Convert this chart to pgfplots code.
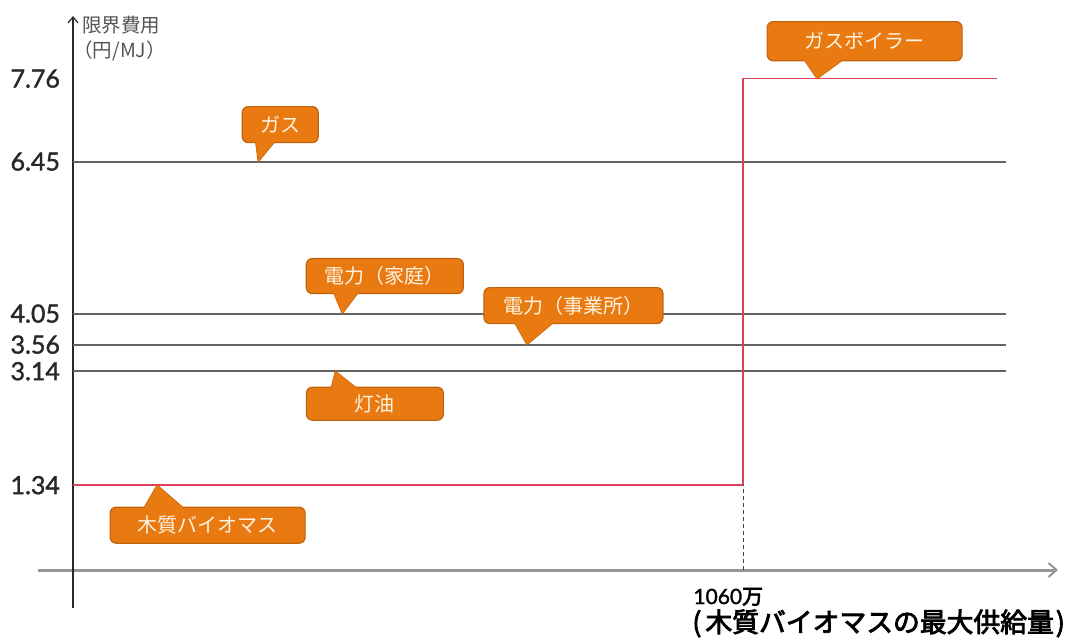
\documentclass[border=0pt]{standalone}
\usepackage{fontspec}
\usepackage{pgfplots}
\pgfplotsset{compat=1.18}
\usetikzlibrary{arrows.meta}
\setmainfont{Lato}
\newfontfamily\jp{Noto Sans CJK JP}
\newfontfamily\jpheavy[FakeBold=3]{Noto Sans CJK JP}
\newfontfamily\tickfont[FakeBold=1.5]{Lato}

\definecolor{calloutfill}{RGB}{233,122,18}
\definecolor{calloutedge}{RGB}{192,98,14}
\definecolor{callouttext}{RGB}{255,242,225}
\definecolor{levelgray}{RGB}{100,100,100}
\definecolor{stepred}{RGB}{220,64,92}
\definecolor{xaxisgray}{RGB}{150,150,150}
\definecolor{ticktext}{RGB}{40,40,40}
\definecolor{titlegray}{RGB}{85,85,85}

% Speech-bubble label.
% #1 tip coordinate; #2 left, #3 right, #4 top, #5 bottom of the box;
% #6, #7 ends of the pointer base; #8 text.  Offsets in px, y pointing down.
\newcommand{\callout}[8]{%
  \begin{scope}[shift={(#1)}, x=0.5pt, y=-0.5pt]
    \pgfmathsetmacro\cby{(#5<0) ? (#5-4) : (#4+4)}
    \filldraw[fill=calloutfill, draw=calloutedge, line width=0.6pt, line join=round]
      (#6,\cby) -- (0,0) -- (#7,\cby) -- cycle;
    \filldraw[fill=calloutfill, draw=calloutedge, line width=0.6pt, rounded corners=3pt]
      (#2,#4) rectangle (#3,#5);
    \fill[calloutfill] (#6,\cby) -- (0,0) -- (#7,\cby) -- cycle;
    \node[text=callouttext, inner sep=0pt, font={\fontsize{10}{12}\selectfont\jp}]
      at ({(#2+#3)/2},{(#4+#5)/2}) {#8};
  \end{scope}}

\begin{document}
\begin{tikzpicture}
\useasboundingbox (-19pt,-15pt) rectangle (519.5pt,304pt);
\begin{axis}[
  at={(0pt,0pt)}, anchor=south west,
  scale only axis, width=510pt, height=296pt,
  xmin=-55.4, xmax=1558, ymin=-0.60, ymax=8.75,
  axis lines=middle,
  x axis line style={xaxisgray, line width=1.5pt, -{Straight Barb[length=4pt, width=7pt, line width=1pt]}},
  y axis line style={ticktext, line width=0.7pt, -{Straight Barb[length=3pt, width=5pt, line width=0.6pt]}},
  xtick=\empty,
  ytick={1.34,3.14,3.56,4.05,6.45,7.76},
  yticklabels={1.34,3.14,3.56,4.05,6.45,7.76},
  major tick length=0pt,
  yticklabel style={anchor=east, xshift=-3pt, text=ticktext, font={\fontsize{12.5}{14}\selectfont\tickfont}},
  clip=false,
]
% fixed-price alternatives
\addplot[levelgray, line width=1pt] coordinates {(0,6.45) (1475,6.45)};
\addplot[levelgray, line width=1pt] coordinates {(0,4.05) (1475,4.05)};
\addplot[levelgray, line width=1pt] coordinates {(0,3.56) (1475,3.56)};
\addplot[levelgray, line width=1pt] coordinates {(0,3.14) (1475,3.14)};
% woody biomass up to its maximum supply, then the gas boiler
\addplot[stepred, line width=0.7pt] coordinates {(0,1.34) (1060,1.34) (1060,7.76) (1462,7.76)};
\addplot[black!75, line width=0.5pt, dash pattern=on 2pt off 1.5pt] coordinates {(1060,0) (1060,1.34)};

\coordinate (tGas)   at (axis cs:293,6.45);
\coordinate (tHome)  at (axis cs:426,4.05);
\coordinate (tOffice) at (axis cs:718,3.56);
\coordinate (tKero)  at (axis cs:415,3.14);
\coordinate (tBoiler) at (axis cs:1177,7.76);
\coordinate (tWood)  at (axis cs:133,1.34);
\end{axis}

% axis titles
\node[anchor=base west, inner sep=0pt, text=titlegray, font={\fontsize{9.75}{11}\selectfont\jp}]
  at (22pt,287.5pt) {限界費用};
\node[anchor=base west, inner sep=0pt, text=titlegray, font={\fontsize{9.75}{11}\selectfont\jp}]
  at (17.5pt,275pt) {（円/MJ）};
\node[anchor=base west, inner sep=0pt, text=black, font={\fontsize{10.5}{12}\selectfont\tickfont}]
  at (327.5pt,2pt) {1060{\jpheavy 万}};
\node[anchor=base west, inner sep=0pt, text=black, font={\fontsize{13.4}{16}\selectfont\jpheavy}]
  at (327pt,-12pt) {(\hspace{2pt}木質バイオマスの最大供給量\hspace{1pt})};

% labels
\callout{tGas}{-16}{60}{-55}{-19}{-3}{19}{ガス}
\callout{tHome}{-36}{121}{-55}{-20}{-10}{18}{電力（家庭）}
\callout{tOffice}{-43}{136}{-57}{-21}{-14}{30}{電力（事業所）}
\callout{tKero}{-29}{108}{16}{49}{-5}{25}{灯油}
\callout{tBoiler}{-50}{145}{-57}{-18}{-15}{30}{ガスボイラー}
\callout{tWood}{-47}{148}{22}{58}{-15}{30}{木質バイオマス}
\end{tikzpicture}
\end{document}
